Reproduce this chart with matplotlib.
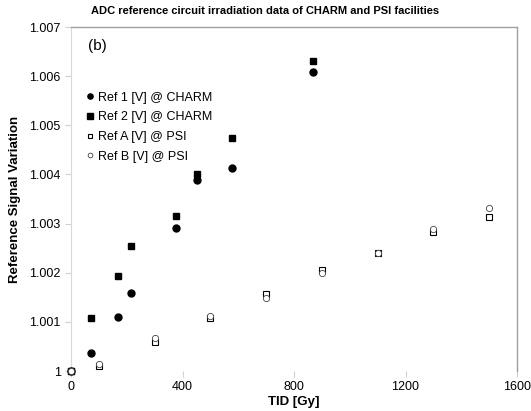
import numpy as np
import matplotlib.pyplot as plt

plt.rcParams['font.family'] = ['Liberation Sans', 'DejaVu Sans']

# CHARM data
tid_charm = [0, 72, 168, 215, 377, 451, 576, 869]
ref1 = [1.0000, 1.00036, 1.00110, 1.00159, 1.00291, 1.00389, 1.00413, 1.00608]
ref2 = [1.0000, 1.00108, 1.00194, 1.00255, 1.00316, 1.00401, 1.00474, 1.00631]

# PSI data
tid_psi = [0, 100, 300, 500, 700, 900, 1100, 1300, 1500]
refA = [1.0000, 1.00010, 1.00060, 1.00108, 1.00157, 1.00205, 1.00240, 1.00283, 1.00314]
refB = [1.0000, 1.00015, 1.00068, 1.00112, 1.00148, 1.00200, 1.00240, 1.00288, 1.00331]

xticks = [0, 400, 800, 1200, 1600]
yticks = [1.000, 1.001, 1.002, 1.003, 1.004, 1.005, 1.006, 1.007]
yticklabels = ["1", "1.001", "1.002", "1.003", "1.004", "1.005", "1.006", "1.007"]

fig = plt.figure(figsize=(5.31, 4.11), dpi=100)
ax = fig.add_axes([71/531, 1-371/411, (517-71)/531, (371-27)/411])

ax.plot(tid_charm, ref1, 'o', ms=5, color='black', label="Ref 1 [V] @ CHARM", clip_on=False, zorder=4)
ax.plot(tid_charm, ref2, 's', ms=5, color='black', label="Ref 2 [V] @ CHARM", clip_on=False, zorder=3)
ax.plot(tid_psi, refA, 's', ms=4.5, mfc='white', mec='black', mew=0.8, label="Ref A [V] @ PSI", clip_on=False, zorder=5)
ax.plot(tid_psi, refB, 'o', ms=4.5, mfc='white', mec='#444444', mew=0.6, label="Ref B [V] @ PSI", clip_on=False, zorder=5)

ax.set_xlim(0, 1600)
ax.set_ylim(1.0, 1.007)
ax.set_xticks(xticks)
ax.set_yticks(yticks)
ax.set_yticklabels(yticklabels)
ax.tick_params(labelsize=9, colors='#d0d0d0', labelcolor='black', length=4, width=0.8)

for s in ['top', 'right']:
    ax.spines[s].set_color('#a0a0a0')
    ax.spines[s].set_linewidth(1.0)
ax.spines['left'].set_color('#d9d9d9')
ax.spines['bottom'].set_visible(False)

ax.set_xlabel("TID [Gy]", fontsize=9.5, fontweight='bold', labelpad=2)
ax.set_ylabel("Reference Signal Variation", fontsize=9.5, fontweight='bold', labelpad=6)
fig.suptitle("ADC reference circuit irradiation data of CHARM and PSI facilities",
             fontsize=8, fontweight='bold', y=0.985)

ax.text(0.038, 0.945, "(b)", transform=ax.transAxes, fontsize=11, va='center')

leg = ax.legend(loc='upper left', bbox_to_anchor=(0.0, 0.845), frameon=False, fontsize=9,
                handletextpad=0.1, labelspacing=0.62, handlelength=1.2, markerscale=0.75)

fig.savefig("out.png", dpi=100)
